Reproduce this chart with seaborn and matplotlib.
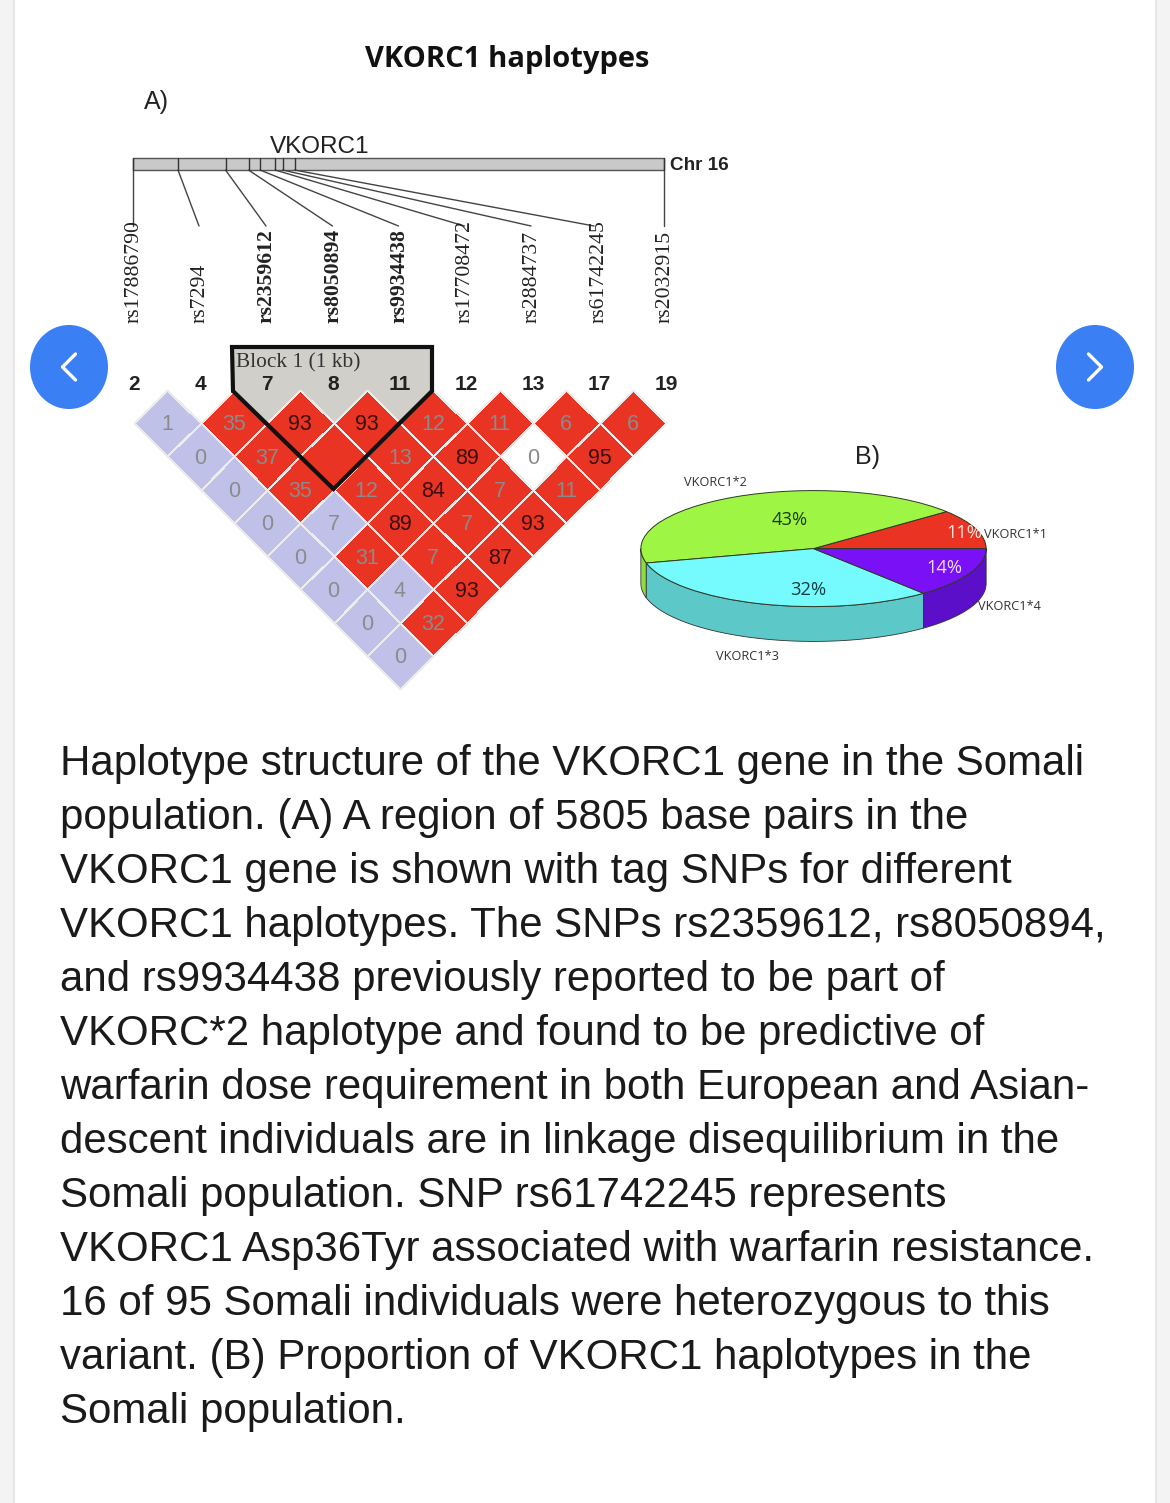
import numpy as np
import pandas as pd
import matplotlib
matplotlib.use('Agg')
import matplotlib.pyplot as plt
import seaborn as sns
from matplotlib.colors import ListedColormap
from matplotlib.patches import Ellipse, Polygon, Rectangle
from matplotlib.transforms import Affine2D

# SNPs and LD numbers
snps = ['rs17886790', 'rs7294', 'rs2359612', 'rs8050894', 'rs9934438',
        'rs17708472', 'rs2884737', 'rs61742245', 'rs2032915']
bold_snps = ['rs2359612', 'rs8050894', 'rs9934438']
marker_nums = [2, 4, 7, 8, 11, 12, 13, 17, 19]

n = np.nan
ld_values = [
    [n, 1, 0, 0, 0, 0, 0, 0, 0],
    [n, n, 35, 37, 35, 7, 31, 4, 32],
    [n, n, n, 93, 100, 12, 89, 7, 93],
    [n, n, n, n, 93, 13, 84, 7, 87],
    [n, n, n, n, n, 12, 89, 7, 93],
    [n, n, n, n, n, n, 11, 0, 11],
    [n, n, n, n, n, n, n, 6, 95],
    [n, n, n, n, n, n, n, n, 6],
    [n, n, n, n, n, n, n, n, n],
]
# 0 lavender, 1 red, 2 white
ld_class = [
    [0, 0, 0, 0, 0, 0, 0, 0, 0],
    [0, 0, 1, 1, 1, 0, 1, 0, 1],
    [0, 0, 0, 1, 1, 1, 1, 1, 1],
    [0, 0, 0, 0, 1, 1, 1, 1, 1],
    [0, 0, 0, 0, 0, 1, 1, 1, 1],
    [0, 0, 0, 0, 0, 0, 1, 2, 1],
    [0, 0, 0, 0, 0, 0, 0, 1, 1],
    [0, 0, 0, 0, 0, 0, 0, 0, 1],
    [0, 0, 0, 0, 0, 0, 0, 0, 0],
]

hap_names = ['VKORC1*1', 'VKORC1*2', 'VKORC1*3', 'VKORC1*4']
hap_pct = [11, 43, 32, 14]

caption = [
    'Haplotype structure of the VKORC1 gene in the Somali',
    'population. (A) A region of 5805 base pairs in the',
    'VKORC1 gene is shown with tag SNPs for different',
    'VKORC1 haplotypes. The SNPs rs2359612, rs8050894,',
    'and rs9934438 previously reported to be part of',
    'VKORC*2 haplotype and found to be predictive of',
    'warfarin dose requirement in both European and Asian-',
    'descent individuals are in linkage disequilibrium in the',
    'Somali population. SNP rs61742245 represents',
    'VKORC1 Asp36Tyr associated with warfarin resistance.',
    '16 of 95 Somali individuals were heterozygous to this',
    'variant. (B) Proportion of VKORC1 haplotypes in the',
    'Somali population.',
]

sans = 'Liberation Sans'
serif = 'Liberation Serif'

sns.set_theme(style='white')
fig = plt.figure(figsize=(11.7, 15.03), dpi=100, facecolor='white')
ax = fig.add_axes([0, 0, 1, 1])

# LD triangle: a seaborn heatmap turned 45 degrees
df_vals = pd.DataFrame(ld_values, index=snps, columns=snps)
df_class = pd.DataFrame(ld_class, index=snps, columns=snps)
labels = df_vals.map(lambda v: '' if np.isnan(v) or v == 100 else str(int(v)))
cmap = ListedColormap(['#bfc1e8', '#e93323', '#ffffff'])
sns.heatmap(df_class, mask=df_vals.isna(), cmap=cmap, vmin=0, vmax=2, cbar=False,
            annot=labels, fmt='', linewidths=0.7, linecolor='#eeeaea',
            annot_kws={'fontfamily': sans, 'fontsize': 15.5}, ax=ax)

ax.set_xlim(0, 1170)
ax.set_ylim(1503, 0)
ax.axis('off')
ax.set_aspect('auto')

step = 33.25
x0, y0 = 134, 423
rot = Affine2D(np.array([[step, step, x0 - step],
                         [step, -step, y0 - step],
                         [0, 0, 1]]))
mesh = ax.collections[0]
mesh.set_transform(rot + ax.transData)
mesh.set_zorder(3)
# no grid lines on the masked half of the matrix
edge_cols = np.array([[0.93, 0.92, 0.92, 0.0 if np.isnan(v) else 1.0]
                      for row in ld_values for v in row])
mesh.set_edgecolor(edge_cols)
vals_flat = [v for row in ld_values for v in row if not np.isnan(v)]
for txt, v in zip(ax.texts, vals_flat):
    txt.set_transform(rot + Affine2D().translate(0, 2) + ax.transData)
    txt.set_zorder(4)
    txt.set_color('#3a0d0d' if 80 <= v < 100 else '#8b8b8b')

# page edges and buttons
ax.add_patch(Rectangle((0, 0), 13, 1503, fc='#f3f3f4', ec='none', zorder=0))
ax.add_patch(Rectangle((13, 0), 2, 1503, fc='#e6e6e6', ec='none', zorder=0))
ax.add_patch(Rectangle((1155, 0), 2, 1503, fc='#e6e6e6', ec='none', zorder=0))
ax.add_patch(Rectangle((1157, 0), 13, 1503, fc='#f3f3f4', ec='none', zorder=0))
for cx, sign in [(69, -1), (1095, 1)]:
    ax.add_patch(Ellipse((cx, 367), 78, 84, fc='#3b7ff5', ec='none', zorder=6))
    ax.plot([cx - sign * 6.5, cx + sign * 6.5, cx - sign * 6.5], [354, 367, 380], color='white',
            lw=2.4, solid_capstyle='round', solid_joinstyle='round', zorder=7)

ax.text(507, 60, 'VKORC1 haplotypes', family='Open Sans', weight='bold', fontsize=21,
        color='#111111', ha='center', va='center')
ax.text(144, 102, 'A)', family=sans, fontsize=18, color='#222222', va='center')
ax.text(855, 457, 'B)', family=sans, fontsize=18, color='#222222', va='center')
ax.text(320, 147, 'VKORC1', family=sans, fontsize=17.5, color='#222222', ha='center', va='center')
ax.text(670, 166, 'Chr 16', family=sans, weight='bold', fontsize=13.6, color='#222222', va='center')

# chromosome bar
bar_ticks = [132.5, 178, 225.5, 248.5, 260, 275, 282.5, 294.5, 664]
label_x = [132.5, 199, 266, 332.5, 398.5, 464.5, 531, 594, 664]
text_x = [134, 200, 266, 333, 399, 465, 532, 599, 665]
ax.add_patch(Rectangle((132.5, 158), 531.5, 12, fc='#c9c9c9', ec='#555555', lw=1, zorder=2))
for tx, lx, sx, name in zip(bar_ticks, label_x, text_x, snps):
    ax.plot([tx, tx], [158, 170], color='#333333', lw=1, zorder=3)
    ax.plot([tx, lx], [170, 226], color='#444444', lw=1, zorder=2)
    ax.text(sx, 323, name, rotation=90, family=serif, fontsize=15.7, color='#222222',
            weight='bold' if name in bold_snps else 'normal',
            ha='center', va='bottom', zorder=4)

for k, num in enumerate(marker_nums):
    ax.text(x0 + k * 2 * step, 385, str(num), family=sans, weight='bold', fontsize=15,
            color='#222222', ha='center', va='center', zorder=5)

# block outline
ax.add_patch(Polygon([(232, 347), (432, 347), (432, 391), (333.5, 489), (233, 391)],
                     fc='#d0cfc9', ec='none', zorder=1))
ax.plot([233, 232, 432, 432, 333.5, 233], [391, 347, 347, 391, 489, 391], color='#111111',
        lw=3, zorder=5, solid_joinstyle='miter')
ax.text(236, 363, 'Block 1 (1 kb)', family=serif, fontsize=15.4, color='#333333', va='center', zorder=5)

# pie, squashed into an ellipse with a drawn side wall
depth = 0.6
ax_pie = fig.add_axes([640 / 1170, 1 - 642 / 1503, 347 / 1170, 152 / 1503])
top_colors = ['#ea3323', '#9ff543', '#75fbfd', '#7a10f5']
side_colors = ['#b52a1c', '#8fdc3c', '#5cc8c8', '#5b0fc8']
wedges, _ = ax_pie.pie(hap_pct, startangle=0, counterclock=True, colors=top_colors, radius=1,
                       wedgeprops={'edgecolor': '#2c3a20', 'linewidth': 0.7})
ax_pie.set_aspect('auto')
ax_pie.set_xlim(-1.005, 1.005)
ax_pie.set_ylim(-1 - depth - 0.01, 1.01)
ax_pie.axis('off')
for w, c in zip(wedges, side_colors):
    a1, a2 = max(w.theta1, 180), min(w.theta2, 360)
    if a2 <= a1:
        continue
    t = np.radians(np.linspace(a1, a2, 60))
    xs = np.cos(t)
    ys = np.sin(t)
    ax_pie.fill(np.r_[xs, xs[::-1]], np.r_[ys, ys[::-1] - depth], fc=c, ec='#333333', lw=0.6, zorder=0)

ax_pie.set_zorder(2)
ax.set_zorder(1)
ax.patch.set_alpha(0)

# labels go on a top layer so that they sit over the pie
ax_top = fig.add_axes([0, 0, 1, 1], facecolor='none', zorder=3)
ax_top.set_xlim(0, 1170)
ax_top.set_ylim(1503, 0)
ax_top.axis('off')
pct_pos = [(964, 533), (790, 520), (808, 590), (944, 568)]
pct_col = ['#fbe3e0', '#1d3a10', '#123c44', '#f0dcff']
for (px, py), col, v in zip(pct_pos, pct_col, hap_pct):
    ax_top.text(px, py, f'{v}%', family='Open Sans', fontsize=13.2, color=col, ha='center', va='center')
name_pos = [(1016, 535), (715, 483), (747, 656), (1009, 607)]
for (px, py), name in zip(name_pos, hap_names):
    ax_top.text(px, py, name, family='Open Sans', fontsize=9.2, color='#333333', ha='center', va='center')

# caption
for i, line in enumerate(caption):
    ax.text(60, 764.5 + i * 54, line, family=sans, fontsize=30.23, color='#1a1a1a', va='center')

fig.savefig('out.png', dpi=100)
